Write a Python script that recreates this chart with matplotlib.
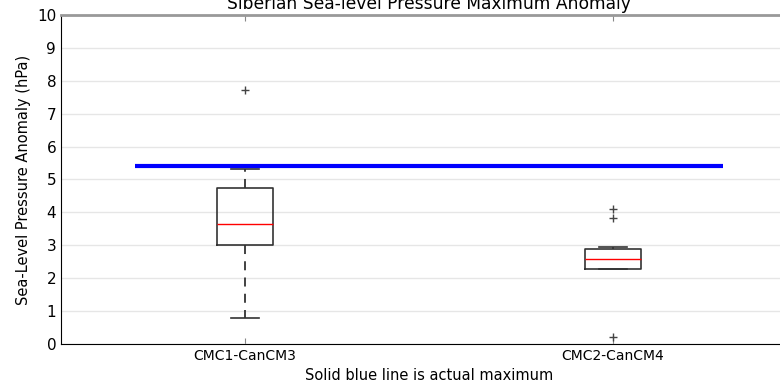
import matplotlib
matplotlib.use("Agg")
import matplotlib.pyplot as plt

# Datos
models = ["CMC1-CanCM3", "CMC2-CanCM4"]
q1 = [3.01, 2.28]
medians = [3.65, 2.58]
q3 = [4.74, 2.89]
whis_lo = [0.79, 2.28]
whis_hi = [5.32, 2.95]
fliers = [[7.72], [4.10, 3.83, 0.22]]
actual_max = 5.42

stats = []
for i in range(len(models)):
    stats.append({"label": models[i], "q1": q1[i], "med": medians[i], "q3": q3[i],
                  "whislo": whis_lo[i], "whishi": whis_hi[i], "fliers": fliers[i]})

fig = plt.figure(figsize=(7.8, 3.86), dpi=100)
ax = fig.add_axes([61 / 780, 1 - 344 / 386, (797 - 61) / 780, (344 - 15) / 386])

ax.bxp(stats, positions=[1, 2], widths=0.15,
       boxprops=dict(color="#333333", linewidth=1.2),
       medianprops=dict(color="red", linewidth=1),
       whiskerprops=dict(color="#333333", linestyle=(0, (5, 4)), linewidth=1.3),
       capprops=dict(color="#333333", linewidth=1.2),
       flierprops=dict(marker="+", markeredgecolor="#444444", markersize=6))

# Linea del maximo real
ax.hlines(actual_max, 0.7, 2.3, color="blue", linewidth=3, zorder=5)

ax.set_xlim(0.5, 2.5)
ax.set_ylim(0, 10)
ax.set_yticks(range(0, 11))
ax.yaxis.grid(True, color="#e6e6e6", linewidth=1)
ax.set_axisbelow(True)
ax.tick_params(axis="y", length=0, labelsize=11)
ax.tick_params(axis="x", direction="in", top=True, length=4, labelsize=10, color="#888888")
ax.spines["top"].set_color("#999999")
ax.spines["top"].set_linewidth(2)
ax.spines["right"].set_visible(False)

ax.set_title("Siberian Sea-level Pressure Maximum Anomaly", fontsize=12.3, pad=4)
ax.set_ylabel("Sea-Level Pressure Anomaly (hPa)", fontsize=10.5)
ax.set_xlabel("Solid blue line is actual maximum", fontsize=10.5)

fig.savefig("out.png", dpi=100)
